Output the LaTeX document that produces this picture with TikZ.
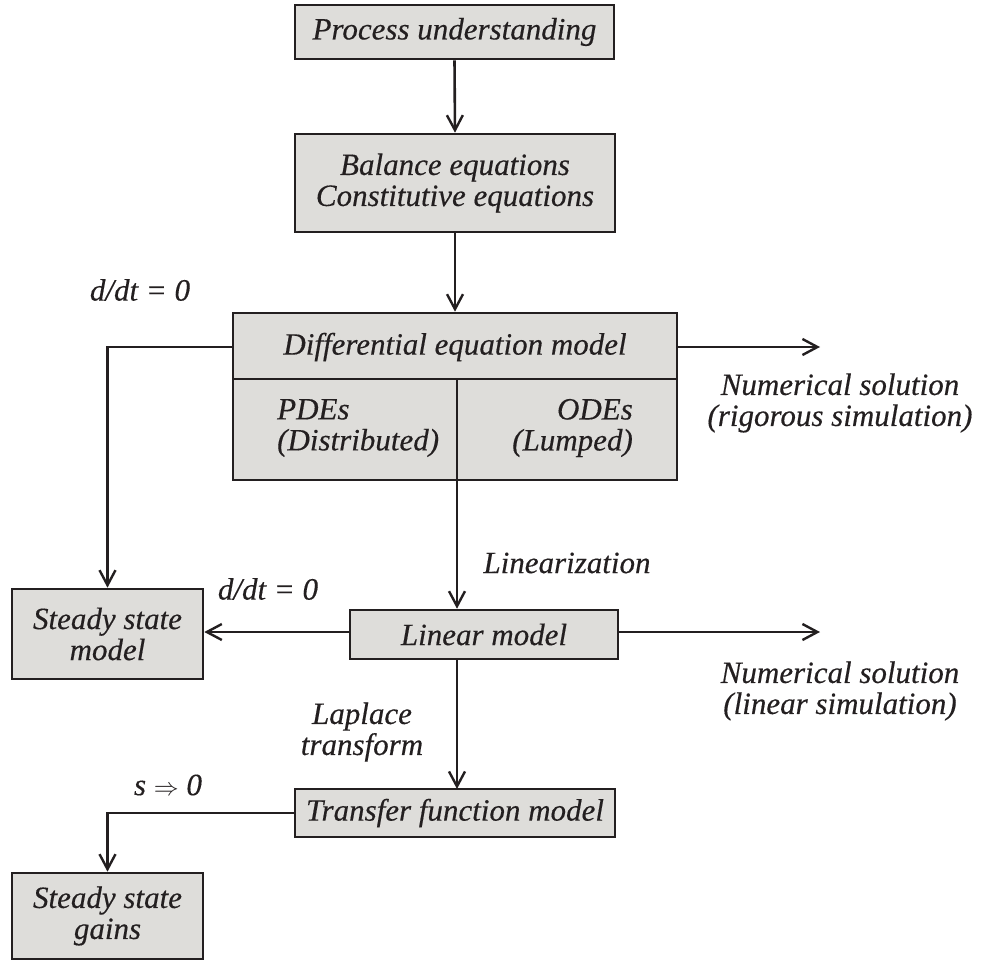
\documentclass[tikz,border=0pt]{standalone}
\usepackage{fontspec}
\setmainfont{Liberation Serif}[ItalicFont={Liberation Serif Italic},ItalicFeatures={FakeBold=0.35}]
\usetikzlibrary{arrows.meta}
\definecolor{boxfill}{HTML}{DEDDDA}
\definecolor{ink}{HTML}{231F20}
\tikzset{
  box/.style={draw=ink, fill=boxfill, line width=2.6pt, inner sep=0pt, align=center, font=\rmfamily\fontsize{31}{31}\selectfont\itshape, text=ink},
  lbl/.style={font=\rmfamily\fontsize{31}{31}\selectfont\itshape, text=ink, inner sep=0pt, align=center},
  conn/.style={draw=ink, line width=2.6pt, -{Straight Barb[length=15pt,width=16pt,line width=2.4pt]}},
  plain/.style={draw=ink, line width=2.6pt}
}
\begin{document}
\begin{tikzpicture}[x=1pt,y=-1pt]
\useasboundingbox (0,0) rectangle (981,960);
% boxes
\node[box, minimum width=319pt, minimum height=54pt] (b1) at (454.5,32) {Process understanding};
\node[box, minimum width=320pt, minimum height=98pt] (b2) at (455,183) {Balance equations\\Constitutive equations};
\node[box, minimum width=444pt, minimum height=167pt] (de) at (455,396.5) {};
\coordinate (detopL) at (233,347);
\coordinate (detopR) at (677,347);
\draw[plain] (233,379) -- (677,379);
\draw[plain] (457,379) -- (457,480);
\node[lbl] (detxt) at (455,347) {Differential equation model};
\node[lbl, anchor=west, align=left] (pde) at (277,428) {PDEs\\(Distributed)};
\node[lbl, anchor=east, align=right] (ode) at (633,428) {ODEs\\(Lumped)};
\coordinate (debot) at (457,480);
\node[box, minimum width=191pt, minimum height=90pt] (ss) at (107.5,634) {Steady state\\model};
\node[box, minimum width=268pt, minimum height=49pt] (lin) at (484,634.5) {Linear model};
\node[box, minimum width=320pt, minimum height=48pt] (tf) at (455,813) {Transfer function model};
\node[box, minimum width=191pt, minimum height=86pt] (gains) at (107.5,916) {Steady state\\gains};
% free ends
\coordinate (num1) at (820,347);
\coordinate (num2) at (820,632);
% connectors
\draw[conn] (b1.south) -- (b2.north);
\draw[conn] (b2.south) -- (de.north);
\draw[conn] (de.west |- detopL) -| (ss.north);
\draw[conn] (de.east |- detopR) -- (num1);
\draw[conn] (debot) -- (debot |- lin.north);
\draw[conn] (lin.west |- 0,632) -- (ss.east |- 0,632);
\draw[conn] (lin.east |- 0,632) -- (num2);
\draw[conn] (457,659) -- (457,789);
\draw[conn] (tf.west) -| (gains.north);
% labels
\node[lbl] (l1) at (140,290) {d/dt = 0};
\node[lbl] (l2) at (268,589) {d/dt = 0};
\node[lbl] (l3) at (840,403) {Numerical solution\\(rigorous simulation)};
\node[lbl] (l4) at (567,563) {Linearization};
\node[lbl] (l5) at (840,691) {Numerical solution\\(linear simulation)};
\node[lbl] (l6) at (362,732) {Laplace\\transform};
\node[lbl] (l7) at (168,785) {s $\Rightarrow$ 0};
\end{tikzpicture}
\end{document}
